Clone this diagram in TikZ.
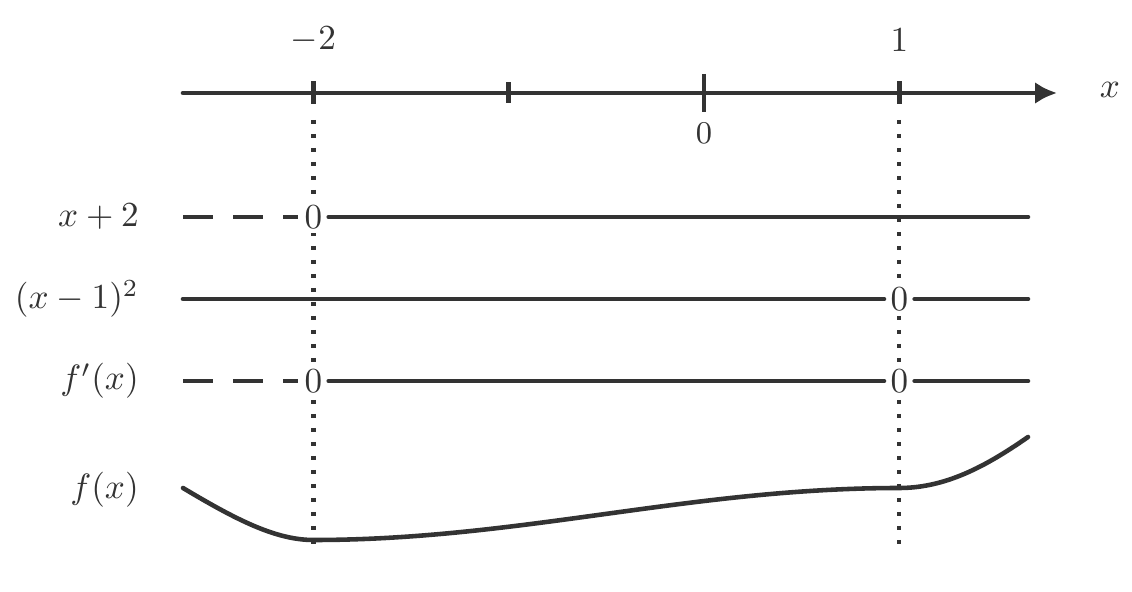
\documentclass[tikz,border=0pt]{standalone}
\usepackage{amsmath}
\usepackage{tikz}
\usetikzlibrary{arrows.meta}
\definecolor{ink}{HTML}{333333}

\begin{document}
\begin{tikzpicture}[ink, line width=1.3pt,
  zero/.style={fill=white, inner sep=1.2pt},
  guide/.style={line width=1.2pt, dash pattern=on 0.04cm off 0.10cm},
  minus/.style={dash pattern=on 0.3cm off 0.2cm},
  plus/.style={line cap=round},
  rowlab/.style={anchor=east, inner sep=0pt}]
\useasboundingbox (0,0) rectangle (11.32,5.92);
% number line
\coordinate (a0) at (1.83,4.99);
\coordinate (a1) at (10.57,4.99);
\draw [plus, -{Latex[length=2.2mm, width=2.2mm]}] (a0) -- (a1);
\node (xlab) at (11.1,5.02) {$x$};
\foreach \t/\h in {-2/0.115, -1/0.105, 0/0.19, 1/0.115}
  \draw ({7.04+1.953*\t},{4.99+\h}) -- ({7.04+1.953*\t},{4.99-\h});
\node (lm2) at (3.134,5.52) {$-2$};
\node (l1) at (8.993,5.52) {$1$};
\node[font=\small] (l0) at (7.04,4.59) {$0$};
% guides
\coordinate (g1a) at (3.134,4.72);
\coordinate (g1b) at (3.134,0.42);
\coordinate (g2a) at (8.993,4.72);
\coordinate (g2b) at (8.993,0.42);
\draw [guide] (g1a) -- (g1b);
\draw [guide] (g2a) -- (g2b);
% sign rows
\node[rowlab] (r1) at (1.41,3.75) {$x+2$};
\node[rowlab] (r2) at (1.41,2.93) {$(x-1)^2$};
\node[rowlab] (r3) at (1.41,2.11) {$f'(x)$};
\node[rowlab] (r4) at (1.41,1.02) {$f(x)$};
\coordinate (r1s) at (1.83,3.75);
\coordinate (r1e) at (10.28,3.75);
\coordinate (r2s) at (1.83,2.93);
\coordinate (r2e) at (10.28,2.93);
\coordinate (r3s) at (1.83,2.11);
\coordinate (r3e) at (10.28,2.11);
\node[zero] (z1) at (3.134,3.75) {$0$};
\node[zero] (z2) at (8.993,2.93) {$0$};
\node[zero] (z3) at (3.134,2.11) {$0$};
\node[zero] (z4) at (8.993,2.11) {$0$};
\draw [minus] (r1s) -- (z1);
\draw [plus] (z1) -- (r1e);
\draw [plus] (r2s) -- (z2);
\draw [plus] (z2) -- (r2e);
\draw [minus] (r3s) -- (z3);
\draw [plus] (z3) -- (z4);
\draw [plus] (z4) -- (r3e);
% variation of f
\coordinate (f0) at (1.83,1.04);
\coordinate (fmin) at (3.134,0.52);
\coordinate (fflat) at (8.993,1.04);
\coordinate (f1) at (10.28,1.55);
\draw [plus] (f0) .. controls (2.35,0.73) and (2.75,0.52) .. (fmin)
  .. controls (5.2,0.52) and (6.9,1.04) .. (fflat)
  .. controls (9.45,1.04) and (9.85,1.25) .. (f1);
\end{tikzpicture}
\end{document}
